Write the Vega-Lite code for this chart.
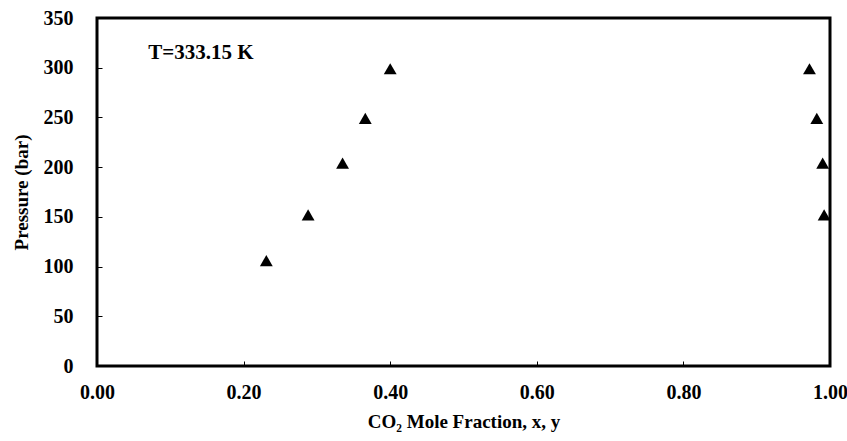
{
  "$schema": "https://vega.github.io/schema/vega-lite/v6.json",
  "width": 733,
  "height": 348,
  "autosize": {"type": "none"},
  "padding": {"left": 97, "top": 18, "right": 17, "bottom": 75},
  "background": "white",
  "config": {
    "font": "Liberation Serif",
    "view": {"stroke": "black", "strokeWidth": 3},
    "axis": {
      "domain": false,
      "grid": false,
      "ticks": true,
      "tickColor": "black",
      "tickWidth": 1,
      "tickSize": -5,
      "labelFont": "Liberation Serif",
      "labelFontWeight": "bold",
      "labelFontSize": 20,
      "labelColor": "black",
      "titleFont": "Liberation Serif",
      "titleFontWeight": "bold",
      "titleFontSize": 19,
      "titleColor": "black"
    }
  },
  "data": {
    "values": [
      {"x": 0.231, "p": 106},
      {"x": 0.288, "p": 152},
      {"x": 0.335, "p": 204},
      {"x": 0.366, "p": 249},
      {"x": 0.400, "p": 299},
      {"x": 0.972, "p": 299},
      {"x": 0.982, "p": 249},
      {"x": 0.990, "p": 204},
      {"x": 0.992, "p": 152}
    ]
  },
  "layer": [
    {
      "mark": {"type": "point", "shape": "triangle-up", "filled": true, "color": "black", "opacity": 1, "size": 165},
      "encoding": {
        "x": {
          "field": "x", "type": "quantitative",
          "scale": {"domain": [0, 1], "nice": false, "zero": false},
          "axis": {"values": [0, 0.2, 0.4, 0.6, 0.8, 1.0], "format": ".2f", "labelPadding": 21, "title": "CO₂ Mole Fraction, x, y", "titlePadding": 10, "labelFlush": false}
        },
        "y": {
          "field": "p", "type": "quantitative",
          "scale": {"domain": [0, 350], "nice": false},
          "axis": {"values": [0, 50, 100, 150, 200, 250, 300, 350], "labelPadding": 29, "title": "Pressure (bar)", "titlePadding": 12, "labelFlush": false}
        }
      }
    },
    {
      "data": {"values": [{"x": 0.07, "p": 315, "t": "T=333.15 K"}]},
      "mark": {"type": "text", "align": "left", "baseline": "middle", "font": "Liberation Serif", "fontWeight": "bold", "fontSize": 21, "color": "black"},
      "encoding": {
        "x": {"field": "x", "type": "quantitative"},
        "y": {"field": "p", "type": "quantitative"},
        "text": {"field": "t"}
      }
    }
  ]
}
